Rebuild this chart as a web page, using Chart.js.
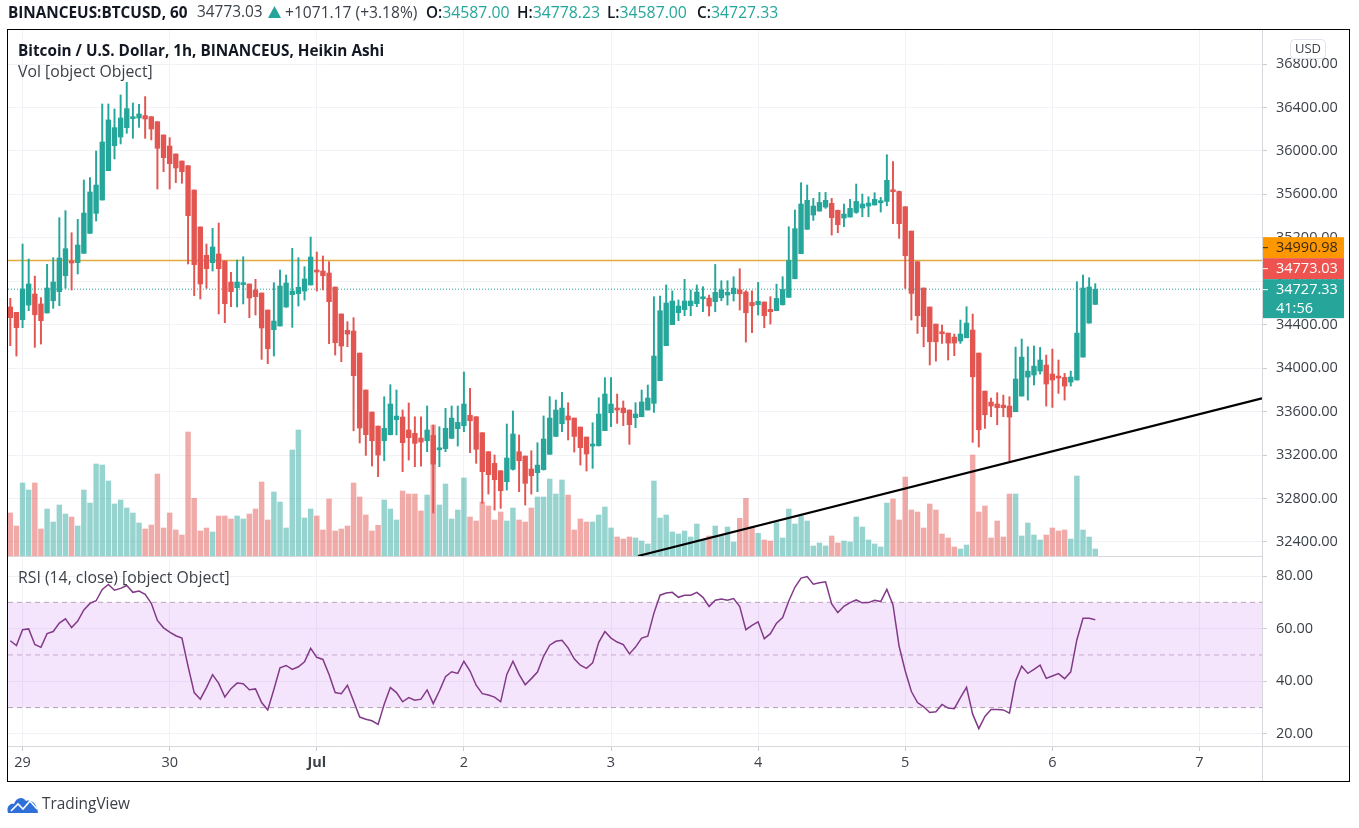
<!DOCTYPE html>
<html><head><meta charset="utf-8">
<style>
html,body{margin:0;padding:0;background:#fff;width:1359px;height:828px;overflow:hidden}
#c{position:absolute;left:0;top:0;display:block}
.t{position:absolute;white-space:nowrap;font-family:"Open Sans",sans-serif;font-size:15.8px;line-height:18px;color:#3c4048}
.b{font-weight:700;color:#131722;font-size:15.3px}
.g{color:#26a69a;font-size:15.8px}
#frame{position:absolute;left:7px;top:29px;width:1343px;height:753px;box-sizing:border-box;border:1px solid #000;pointer-events:none}
</style></head><body>
<canvas id="c" width="1359" height="828"></canvas>
<div id="frame"></div>
<div class="t b" style="left:8px;top:3px">BINANCEUS:BTCUSD, 60</div>
<div class="t" style="left:197px;top:3px;font-size:15.4px">34773.03</div>
<svg style="position:absolute;left:268px;top:6px" width="13" height="12"><polygon points="6.5,0 13,12 0,12" fill="#26a69a"/></svg>
<div class="t" style="left:285px;top:3px;font-size:15.6px">+1071.17 (+3.18%)</div>
<div class="t b" style="left:426px;top:3px;font-weight:600">O:<span class="g" style="font-weight:400">34587.00</span></div>
<div class="t b" style="left:517px;top:3px;font-weight:600">H:<span class="g" style="font-weight:400">34778.23</span></div>
<div class="t b" style="left:607px;top:3px;font-weight:600">L:<span class="g" style="font-weight:400">34587.00</span></div>
<div class="t b" style="left:697px;top:3px;font-weight:600">C:<span class="g" style="font-weight:400">34727.33</span></div>
<div class="t b" style="left:18px;top:41px">Bitcoin / U.S. Dollar, 1h, BINANCEUS, Heikin Ashi</div>
<div class="t" style="left:18px;top:62px">Vol [object Object]</div>
<div class="t" style="left:18px;top:568px">RSI (14, close) [object Object]</div>
<svg style="position:absolute;left:7px;top:794px" width="32" height="20" viewBox="0 0 32 20"><path d="M1 19 C-1 13 3 9 7 10 C9 3 16 2 19 7 C24 5 30 9 31 19 Z" fill="#2e6fd8"/><polyline points="4,17 11,10 16,15 23,7 30,15" fill="none" stroke="#fff" stroke-width="1.6"/></svg>
<div class="t" style="left:42px;top:795px;font-size:15.4px">TradingView</div>
<script src="https://cdn.jsdelivr.net/npm/chart.js@4"></script>
<script>
const opens=[34563,34514,34446,34581,34683,34591,34508,34621,34704,34851,
34987,34971,35057,35241,35425,35548,35818,36048,36128,36214,
36297,36303,36325,36315,36269,36147,36045,35972,35907,35864,
35640,35300,35039,34971,35051,34987,34793,34741,34769,34775,
34720,34692,34535,34354,34388,34563,34677,34686,34710,34766,
34898,34894,34876,34747,34499,34348,34342,34139,33799,33596,
33467,33332,33388,33526,33550,33431,33400,33357,33332,33381,
33249,33259,33354,33443,33470,33566,33553,33406,33231,33124,
33056,32955,33069,33231,33191,33072,33038,33066,33207,33372,
33489,33560,33541,33458,33366,33283,33286,33425,33590,33633,
33633,33615,33544,33553,33615,33676,33885,34207,34401,34511,
34539,34575,34594,34639,34645,34612,34648,34673,34685,34722,
34701,34605,34584,34609,34541,34529,34584,34652,34823,35054,
35278,35410,35446,35483,35517,35453,35382,35391,35434,35474,
35492,35502,35523,35535,35640,35627,35486,35262,34980,34738,
34563,34406,34332,34323,34286,34250,34280,34351,34139,33789,
33688,33670,33660,33651,33599,33743,33918,33937,33973,34029,
33946,33921,33915,33872,33891,34102,34415,34587];
const highs=[34643,34514,35143,35005,34848,34649,34956,35017,35385,35450,
35247,35370,35732,35754,35999,36432,36432,36386,36515,36631,
36441,36429,36500,36315,36269,36147,36122,35972,35907,35864,
35640,35300,35143,35287,35336,34987,34882,34996,35026,34775,
34818,34692,34535,34787,34904,34858,35103,35017,34934,35207,
35069,35033,34980,34747,34499,34428,34465,34139,33799,33596,
33467,33737,33848,33799,33615,33679,33553,33553,33652,33477,
33461,33630,33652,33652,33965,33814,33553,33406,33231,33201,
33056,33486,33606,33385,33191,33240,33314,33560,33738,33707,
33778,33682,33541,33458,33366,33498,33728,33913,33913,33762,
33698,33615,33682,33799,33845,34658,34664,34766,34711,34628,
34818,34720,34766,34750,34673,34955,34805,34805,34842,34915,
34713,34713,34790,34609,34658,34774,34842,35302,35456,35707,
35686,35563,35618,35618,35563,35456,35511,35554,35695,35603,
35578,35615,35572,35965,35901,35631,35486,35262,34980,34738,
34563,34406,34397,34323,34314,34443,34566,34498,34139,33789,
33725,33774,33752,33737,34194,34268,34197,34204,34191,34121,
34176,34075,33952,33973,34796,34857,34833,34778];
const lows=[34207,34112,34373,34529,34192,34222,34508,34551,34575,34735,
34719,34867,35057,35241,35355,35548,35818,35926,36064,36162,
36116,36217,36116,36101,35649,35809,35649,35708,35702,34959,
34667,34637,34735,34894,34499,34419,34566,34563,34591,34465,
34489,34081,34041,34112,34388,34560,34376,34572,34627,34766,
34710,34720,34225,34121,34060,34198,33424,33311,33197,33099,
33001,33148,33385,33385,33047,33154,33093,33099,33231,32667,
33093,33231,33354,33283,33415,33222,33124,32756,32841,32694,
32710,32878,33062,32863,32740,32841,32863,33062,33207,33372,
33415,33339,33228,33108,33053,33078,33283,33425,33461,33492,
33471,33299,33452,33553,33615,33593,33885,34207,34401,34437,
34483,34483,34566,34520,34480,34520,34621,34581,34618,34535,
34240,34326,34489,34372,34406,34529,34581,34652,34823,35054,
35278,35360,35446,35471,35225,35247,35302,35391,35425,35394,
35394,35502,35437,35495,35330,35195,34734,34443,34320,34197,
34029,34065,34228,34075,34115,34228,34280,33317,33274,33446,
33553,33479,33553,33148,33599,33743,33706,33845,33946,33651,
33639,33768,33706,33835,33891,34102,34415,34587];
const closes=[34465,34373,34729,34775,34492,34437,34738,34793,35014,35100,
34968,35134,35428,35622,35686,36082,36285,36214,36303,36389,
36312,36340,36294,36202,36024,35938,35883,35843,35809,35404,
34953,34775,34916,35115,34916,34594,34704,34793,34784,34646,
34658,34370,34179,34434,34756,34784,34710,34744,34821,35023,
34885,34851,34612,34235,34204,34314,33931,33449,33388,33332,
33200,33446,33670,33559,33314,33360,33308,33320,33431,33117,
33265,33446,33541,33501,33670,33516,33253,33047,33020,32973,
32872,33173,33394,33148,32940,33010,33108,33348,33541,33615,
33633,33523,33372,33268,33210,33296,33578,33762,33670,33615,
33590,33480,33578,33689,33725,34112,34529,34600,34618,34572,
34618,34618,34701,34655,34572,34698,34722,34698,34737,34685,
34510,34575,34615,34483,34520,34642,34725,34992,35284,35511,
35545,35492,35526,35545,35385,35321,35419,35471,35535,35511,
35520,35554,35538,35729,35624,35330,35035,34688,34483,34382,
34243,34243,34317,34231,34231,34314,34415,33921,33433,33571,
33651,33636,33636,33550,33900,34102,33973,34019,34075,33854,
33891,33909,33835,33918,34323,34738,34747,34727];
const volumes=[129,90,219,198,219,81,141,102,153,126,
117,90,198,159,276,273,225,156,168,144,
129,99,81,93,246,84,129,78,63,372,
173,75,84,72,120,120,111,120,111,126,
141,222,108,192,162,84,318,378,114,141,
120,78,171,75,81,90,219,177,123,75,
92,168,141,108,195,186,186,135,183,393,
153,216,111,138,234,117,105,162,150,108,
132,105,144,108,102,144,177,177,231,186,
228,183,78,111,102,102,123,147,84,57,
51,57,54,45,36,225,114,123,72,66,
75,57,96,48,60,90,63,87,42,113,
173,88,68,48,45,100,54,141,96,120,
105,30,39,30,60,39,45,42,117,87,
48,36,27,159,171,108,237,138,132,84,
156,138,66,54,27,21,33,303,132,150,
54,105,57,186,186,60,99,63,48,63,
84,75,78,51,240,78,57,21];
const rsiValues=[55.4,53.6,59.6,59.9,54.0,52.9,58.1,58.9,62.1,63.7,
60.4,62.9,67.1,69.6,70.6,74.9,76.8,74.6,75.3,76.4,
73.8,74.3,73.0,69.6,63.1,60.3,58.7,57.3,56.4,45.7,
35.7,33.2,37.6,42.5,39.2,34.0,37.2,39.3,39.1,36.8,
37.1,31.9,29.1,36.9,45.1,46.0,44.5,45.5,47.4,52.5,
49.1,48.3,42.6,35.7,35.3,38.5,32.5,26.4,25.6,25.0,
23.6,31.3,37.6,35.7,32.2,33.8,32.8,33.2,36.7,31.5,
36.3,41.7,43.6,43.0,47.6,43.9,38.5,35.3,34.8,34.0,
32.2,42.6,47.6,42.6,38.7,41.0,43.5,49.5,53.7,55.2,
55.6,52.7,48.5,46.1,44.9,47.0,54.8,58.9,56.4,54.9,
53.9,50.4,53.0,56.4,57.1,65.9,72.7,73.5,73.8,71.9,
72.7,72.7,73.8,71.9,68.4,70.8,71.3,70.8,71.4,68.4,
59.6,61.2,62.6,56.2,58.1,62.1,64.2,70.5,75.7,79.2,
79.8,76.9,77.4,77.8,69.4,66.1,68.5,69.9,70.9,69.8,
69.9,70.8,70.3,74.9,69.0,53.3,43.9,36.1,31.9,30.3,
28.1,28.4,31.2,29.8,29.6,33.8,37.7,27.5,22.0,26.6,
29.3,29.3,29.1,27.9,40.1,45.7,43.0,44.5,46.1,41.1,
42.0,42.9,41.0,43.6,55.8,63.9,63.9,63.4];
const dayTickIdx=[2,26,50,74,98,122,146,170,194];
const dayTickLabels=["29","30","Jul","2","3","4","5","6","7"];
const priceTicks=[32400,32800,33200,33600,34000,34400,34800,35200,35600,36000,36400,36800];
const rsiTicks=[20,40,60,80];
const rsiBands=[70,50,30];
const trendX=[102.4,204.2];
const trendY=[32271,33722];
const highPrice=34990.98, lastPrice=34773.03, closePrice=34727.33;
const countdown="41:56";

const FONT='"Open Sans",sans-serif';
const xMin=-0.375,xMax=204.2;
const GREEN='#26a69a',RED='#e25550',GREEN_V='rgba(38,166,154,.48)',RED_V='rgba(226,85,80,.5)';
const idx=opens.map((_,i)=>i);
const down=i=>closes[i]<opens[i];
const barBase={type:'bar',grouped:false,xAxisID:'x',borderWidth:0,borderSkipped:false};

const overlay={id:'overlay',afterDraw(ch){
  const c=ch.ctx,a=ch.chartArea,y=ch.scales.y,r=ch.scales.rsi;
  c.save();
  c.strokeStyle='#d6d8de';c.lineWidth=1;
  c.beginPath();
  c.moveTo(a.left,Math.round(r.top)+.5);c.lineTo(a.right,Math.round(r.top)+.5);
  c.moveTo(a.left,Math.round(a.bottom)+.5);c.lineTo(a.right+88,Math.round(a.bottom)+.5);
  c.moveTo(Math.round(a.right)+.5,a.top);c.lineTo(Math.round(a.right)+.5,781);
  c.stroke();
  const bx=a.right+1,bw=81,h=21,pc=y.getPixelForValue(closePrice);
  const tt=pc-10,rt=tt-h,ot=rt-h;
  const boxes=[[ot,h,'#ff9800','#3a2a10',[highPrice.toFixed(2)]],
               [rt,h,'#ef5350','#fff',[lastPrice.toFixed(2)]],
               [tt,39,GREEN,'#fff',[closePrice.toFixed(2),countdown]]];
  c.font='14.5px '+FONT;c.textBaseline='middle';c.textAlign='left';
  boxes.forEach(([t,ht,bg,fg,lines])=>{
    c.fillStyle=bg;c.fillRect(bx,t,bw,ht);
    c.fillStyle=fg;c.fillRect(bx,t+10,5,1);
    lines.forEach((s,i)=>c.fillText(s,1276,t+11+i*19));
  });
  c.fillStyle='#fff';c.strokeStyle='#e0e3eb';
  c.beginPath();c.roundRect(1290.5,39.5,35,19,4);c.fill();c.stroke();
  c.fillStyle='#3c4048';c.font='13px '+FONT;c.textAlign='center';
  c.fillText('USD',1308,49.5);
  c.restore();
}};

new Chart(document.getElementById('c'),{
  type:'bar',
  plugins:[overlay],
  data:{datasets:[
    {type:'line',data:[{x:xMin,y:rsiBands[0]},{x:xMax,y:rsiBands[0]}],yAxisID:'rsi',xAxisID:'x',borderColor:'#b9a5ba',borderWidth:1,borderDash:[5,4],pointRadius:0,fill:{target:{value:rsiBands[2]},above:'rgba(178,55,232,.13)'},order:9},
    {type:'line',data:[{x:xMin,y:rsiBands[1]},{x:xMax,y:rsiBands[1]}],yAxisID:'rsi',xAxisID:'x',borderColor:'#c9b8ca',borderWidth:1,borderDash:[5,4],pointRadius:0,order:9},
    {type:'line',data:[{x:xMin,y:rsiBands[2]},{x:xMax,y:rsiBands[2]}],yAxisID:'rsi',xAxisID:'x',borderColor:'#b9a5ba',borderWidth:1,borderDash:[5,4],pointRadius:0,order:9},
    {...barBase,data:idx.map(i=>({x:i,y:volumes[i]})),yAxisID:'vol',barThickness:4.8,backgroundColor:idx.map(i=>down(i)?RED_V:GREEN_V),order:7},
    {type:'line',data:[{x:xMin,y:highPrice},{x:xMax,y:highPrice}],yAxisID:'y',xAxisID:'x',borderColor:'#e0ac3c',borderWidth:1.3,pointRadius:0,order:6},
    {type:'line',data:[{x:xMin,y:closePrice},{x:xMax,y:closePrice}],yAxisID:'y',xAxisID:'x',borderColor:GREEN,borderWidth:1,borderDash:[1,2],pointRadius:0,order:6},
    {...barBase,data:idx.map(i=>({x:i,y:[lows[i],highs[i]]})),yAxisID:'y',barThickness:1.3,backgroundColor:idx.map(i=>down(i)?RED:GREEN),order:5},
    {...barBase,data:idx.map(i=>({x:i,y:[opens[i],closes[i]]})),yAxisID:'y',barThickness:4.7,minBarLength:2,backgroundColor:idx.map(i=>down(i)?RED:GREEN),order:4},
    {type:'line',data:rsiValues.map((y,x)=>({x,y})),yAxisID:'rsi',xAxisID:'x',borderColor:'#823a88',borderWidth:1.5,pointRadius:0,tension:0,order:2},
    {type:'line',data:trendX.map((x,i)=>({x,y:trendY[i]})),yAxisID:'y',xAxisID:'x',borderColor:'#000',borderWidth:2.2,pointRadius:0,order:1}
  ]},
  options:{
    responsive:false,animation:false,
    layout:{padding:{left:8,top:30,right:9,bottom:47}},
    plugins:{legend:{display:false},tooltip:{enabled:false}},
    scales:{
      x:{type:'linear',position:'bottom',min:xMin,max:xMax,offset:false,
        afterBuildTicks:s=>{s.ticks=dayTickIdx.map(v=>({value:v}))},
        afterFit:s=>{s.height=35},
        grid:{offset:false,color:'#f0f2f6',tickColor:'#c8ccd4',tickLength:5},border:{display:false},
        ticks:{autoSkip:false,maxRotation:0,padding:3,color:'#3c4048',
          font:ctx=>({family:FONT,size:14.5,weight:ctx.tick&&ctx.tick.value===50?'700':'400'}),
          callback:v=>dayTickLabels[dayTickIdx.indexOf(v)]}},
      y:{type:'linear',position:'right',stack:'panes',stackWeight:526,weight:0,min:32271,max:37113,
        afterBuildTicks:s=>{s.ticks=priceTicks.map(v=>({value:v}))},
        afterFit:s=>{s.width=88},
        grid:{color:'#f0f2f6',tickColor:'#c8ccd4',tickLength:5},border:{display:false},
        ticks:{padding:9,color:'#3c4048',font:{family:FONT,size:14.5},callback:v=>v.toFixed(2)}},
      rsi:{type:'linear',position:'right',stack:'panes',stackWeight:190,weight:1,min:15.4,max:87.6,
        afterBuildTicks:s=>{s.ticks=rsiTicks.map(v=>({value:v}))},
        afterFit:s=>{s.width=88},
        grid:{color:'#f0f2f6',tickColor:'#c8ccd4',tickLength:5},border:{display:false},
        ticks:{padding:9,color:'#3c4048',font:{family:FONT,size:14.5},callback:v=>v.toFixed(2)}},
      vol:{type:'linear',position:'right',display:false,min:-570,max:1578,grid:{display:false}}
    }
  }
});
</script>
</body></html>
